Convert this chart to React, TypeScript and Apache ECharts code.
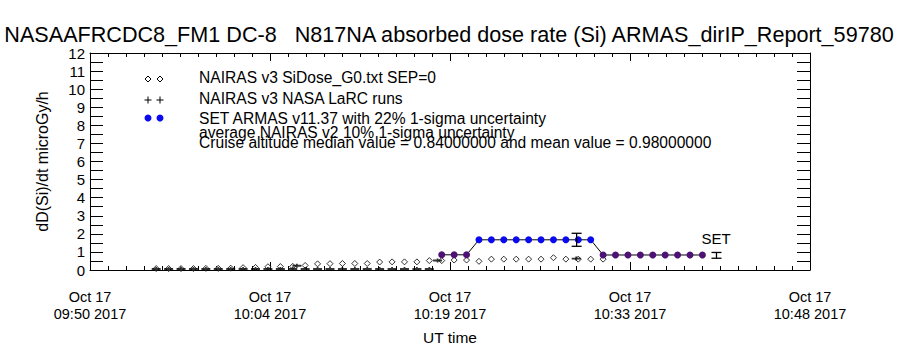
import React, { useEffect, useRef } from "react";
import * as echarts from "echarts";

// ---- data ----
const titleText = "NASAAFRCDC8_FM1 DC-8\u00a0\u00a0\u00a0N817NA absorbed dose rate (Si) ARMAS_dirIP_Report_59780";
const axisStart = "09:50:00";
const axisEnd = "10:48:00";
const xTickStepMin = 14.5;
const yTicks = [0, 12];

// NAIRAS v3 SiDose_G0 (open diamonds)
const diamondTimes = [
  "09:55:20", "09:56:20", "09:57:20", "09:58:20", "09:59:20", "10:00:20", "10:01:20", "10:02:20",
  "10:03:20", "10:04:20", "10:05:20", "10:06:20", "10:07:20", "10:08:20", "10:09:20", "10:10:20",
  "10:11:20", "10:12:20", "10:13:20", "10:14:20", "10:15:20", "10:16:20", "10:17:20", "10:18:20",
  "10:19:20", "10:20:20", "10:21:20", "10:22:20", "10:23:20", "10:24:20", "10:25:20", "10:26:20",
  "10:27:20", "10:28:20", "10:29:20", "10:30:20", "10:31:20",
];
const diamondValues = [
  0.08, 0.08, 0.08, 0.08, 0.09, 0.09, 0.1, 0.13,
  0.14, 0.18, 0.19, 0.2, 0.25, 0.34, 0.35, 0.36,
  0.36, 0.36, 0.44, 0.45, 0.45, 0.45, 0.52, 0.52,
  0.55, 0.55, 0.48, 0.6, 0.6, 0.6, 0.6, 0.6,
  0.68, 0.6, 0.6, 0.6, 0.6,
];

// NAIRAS v3 NASA LaRC runs (plus marks)
const larcTimes = [
  "09:55:20", "09:56:20", "09:57:20", "09:58:20", "09:59:20", "10:00:20", "10:01:20", "10:02:20",
  "10:03:20", "10:04:20", "10:05:20", "10:06:20", "10:07:20", "10:08:20", "10:09:20", "10:10:20",
  "10:11:20", "10:12:20", "10:13:20", "10:14:20", "10:15:20", "10:16:20", "10:17:20",
  "10:06:40", "10:18:00", "10:29:10",
];
const larcValues = [
  0.06, 0.06, 0.06, 0.06, 0.06, 0.06, 0.06, 0.06,
  0.06, 0.06, 0.06, 0.06, 0.06, 0.06, 0.06, 0.06,
  0.06, 0.06, 0.06, 0.06, 0.06, 0.06, 0.06,
  0.24, 0.53, 0.63,
];

// SET ARMAS v11.37
const armasTimes = [
  "10:18:20", "10:19:20", "10:20:20", "10:21:20", "10:22:20", "10:23:20", "10:24:20", "10:25:20",
  "10:26:20", "10:27:20", "10:28:20", "10:29:20", "10:30:20", "10:31:20", "10:32:20", "10:33:20",
  "10:34:20", "10:35:20", "10:36:20", "10:37:20", "10:38:20", "10:39:20",
];
const armasValues = [
  0.84, 0.84, 0.84, 1.67, 1.67, 1.67, 1.67, 1.67,
  1.67, 1.67, 1.67, 1.67, 1.67, 0.83, 0.83, 0.83,
  0.83, 0.83, 0.83, 0.83, 0.83, 0.83,
];

// 1-sigma error bars: time, low, high
const errTimes = ["10:29:12", "10:40:28"];
const errLow = [1.31, 0.65];
const errHigh = [2.03, 0.97];

const legendLabels = [
  "NAIRAS v3 SiDose_G0.txt SEP=0",
  "NAIRAS v3 NASA LaRC runs",
  "SET ARMAS v11.37 with 22% 1-sigma uncertainty",
  "average NAIRAS v2 10% 1-sigma uncertainty",
  "Cruise altitude median value = 0.84000000 and mean value = 0.98000000",
];
const setLabel = "SET";
const xAxisName = "UT time";
const yAxisName = "dD(Si)/dt microGy/h";
const dateLine = "Oct 17";
const yearText = "2017";

// ---- helpers ----
const toSec = (t: string) => {
  const [h, m, s] = t.split(":").map(Number);
  return h * 3600 + m * 60 + s;
};
const t0 = toSec(axisStart);
const toMin = (t: string) => (toSec(t) - t0) / 60;
const pad = (n: number) => (n < 10 ? "0" + n : "" + n);

const FONT = "Liberation Sans";
const BLUE = "#0a0af0";
const PURPLE = "#4e1276";

export default function App() {
  const ref = useRef<HTMLDivElement>(null);
  useEffect(() => {
    if (!ref.current) return;
    const chart = echarts.init(ref.current, null, { renderer: "svg" });
    const xMax = toMin(axisEnd);

    const axisCommon = {
      type: "value" as const,
      axisLine: { show: true, onZero: false, lineStyle: { color: "#000", width: 1 } },
      splitLine: { show: false },
      minorSplitLine: { show: false },
    };

    const labelFmt = (v: number) => {
      const total = Math.floor(t0 / 60 + v);
      const h = Math.floor(total / 60);
      const m = total % 60;
      return dateLine + "\n" + pad(h) + ":" + pad(m) + " " + yearText;
    };

    const txt = (x: number, y: number, text: string, size: number, align = "left") => ({
      type: "text",
      x,
      y,
      style: { text, fill: "#000", font: `${size}px "${FONT}"`, textAlign: align, textVerticalAlign: "middle" },
    });

    const diamond = (cx: number, cy: number) => ({
      type: "polygon",
      shape: { points: [[cx, cy - 3], [cx + 3, cy], [cx, cy + 3], [cx - 3, cy]] },
      style: { fill: "#fff", stroke: "#000", lineWidth: 1 },
    });
    const plus = (cx: number, cy: number) => ({
      type: "group",
      children: [
        { type: "line", shape: { x1: cx - 3.5, y1: cy, x2: cx + 3.5, y2: cy }, style: { stroke: "#000", lineWidth: 1 } },
        { type: "line", shape: { x1: cx, y1: cy - 3.5, x2: cx, y2: cy + 3.5 }, style: { stroke: "#000", lineWidth: 1 } },
      ],
    });
    const dot = (cx: number, cy: number) => ({
      type: "circle",
      shape: { cx, cy, r: 3.5 },
      style: { fill: BLUE },
    });

    chart.setOption({
      animation: false,
      backgroundColor: "#fff",
      textStyle: { fontFamily: FONT },
      grid: { left: 90, right: 90, top: 53, bottom: 71 },
      xAxis: [
        {
          ...axisCommon,
          position: "bottom",
          min: 0,
          max: xMax,
          interval: xTickStepMin,
          axisTick: { show: true, inside: true, length: 8, lineStyle: { color: "#000" } },
          minorTick: { show: true, splitNumber: 10, length: 4, lineStyle: { color: "#000" } },
          axisLabel: {
            formatter: labelFmt,
            color: "#000",
            fontSize: 14.5,
            lineHeight: 17,
            margin: 18,
            fontFamily: FONT,
            showMinLabel: true,
            showMaxLabel: true,
          },
          name: xAxisName,
          nameLocation: "middle",
          nameGap: 59,
          nameTextStyle: { color: "#000", fontSize: 15.5, fontFamily: FONT },
        },
        {
          ...axisCommon,
          position: "top",
          min: 0,
          max: xMax,
          interval: xTickStepMin,
          axisTick: { show: true, inside: true, length: 8, lineStyle: { color: "#000" } },
          minorTick: { show: true, splitNumber: 10, length: 4, lineStyle: { color: "#000" } },
          axisLabel: { show: false },
        },
      ],
      yAxis: [
        {
          ...axisCommon,
          position: "left",
          min: yTicks[0],
          max: yTicks[1],
          interval: 1,
          axisTick: { show: true, inside: true, length: 13, lineStyle: { color: "#000" } },
          minorTick: { show: true, splitNumber: 2, length: 13, lineStyle: { color: "#000" } },
          axisLabel: { color: "#000", fontSize: 15, margin: 5, fontFamily: FONT },
          name: yAxisName,
          nameLocation: "middle",
          nameGap: 40,
          nameRotate: 90,
          nameTextStyle: { color: "#000", fontSize: 16, fontFamily: FONT },
        },
        {
          ...axisCommon,
          position: "right",
          min: yTicks[0],
          max: yTicks[1],
          interval: 1,
          axisTick: { show: true, inside: true, length: 13, lineStyle: { color: "#000" } },
          minorTick: { show: true, splitNumber: 2, length: 13, lineStyle: { color: "#000" } },
          axisLabel: { show: false },
        },
      ],
      series: [
        {
          type: "scatter",
          name: "diamonds",
          data: diamondTimes.map((t, i) => [toMin(t), diamondValues[i]]),
          symbol: "diamond",
          symbolSize: [6, 6],
          itemStyle: { color: "#fff", borderColor: "#000", borderWidth: 1 },
          z: 3,
        },
        {
          type: "scatter",
          name: "larc",
          data: larcTimes.map((t, i) => [toMin(t), larcValues[i]]),
          symbol: "path://M0,1.2h9v1.8h-9z M3.6,0h1.8v4h-1.8z",
          symbolSize: [9, 4],
          itemStyle: { color: "#000" },
          z: 4,
        },
        {
          type: "line",
          name: "armas",
          data: armasTimes.map((t, i) => [toMin(t), armasValues[i]]),
          symbol: "circle",
          symbolSize: 7,
          showSymbol: true,
          lineStyle: { color: "#000", width: 1 },
          itemStyle: {
            color: (p: any) => (p.value[1] > 1.2 ? BLUE : PURPLE),
            borderWidth: 0,
          },
          z: 5,
        },
        {
          type: "custom",
          name: "err",
          data: errTimes.map((t, i) => [toMin(t), errLow[i], errHigh[i]]),
          renderItem: (params: any, api: any) => {
            const lo = api.coord([api.value(0), api.value(1)]);
            const hi = api.coord([api.value(0), api.value(2)]);
            const w = 5;
            const st = { stroke: "#000", lineWidth: 1.3 };
            return {
              type: "group",
              children: [
                { type: "line", shape: { x1: lo[0], y1: lo[1], x2: hi[0], y2: hi[1] }, style: st },
                { type: "line", shape: { x1: lo[0] - w, y1: lo[1], x2: lo[0] + w, y2: lo[1] }, style: st },
                { type: "line", shape: { x1: hi[0] - w, y1: hi[1], x2: hi[0] + w, y2: hi[1] }, style: st },
              ],
            };
          },
          z: 6,
        },
      ],
      graphic: [
        txt(449, 34, titleText, 21.6, "center"),
        diamond(148, 79),
        diamond(160, 79),
        plus(148, 100),
        plus(160, 100),
        dot(148, 118),
        dot(160, 118),
        txt(199, 77, legendLabels[0], 15.6),
        txt(199, 98, legendLabels[1], 15.6),
        txt(199, 118, legendLabels[2], 15.6),
        txt(199, 132, legendLabels[3], 15.6),
        txt(199, 142, legendLabels[4], 15.6),
        txt(716, 238, setLabel, 15, "center"),
      ],
    });
    return () => chart.dispose();
  }, []);
  return <div ref={ref} style={{ position: "fixed", left: 0, top: 0, width: 900, height: 350 }} />;
}
